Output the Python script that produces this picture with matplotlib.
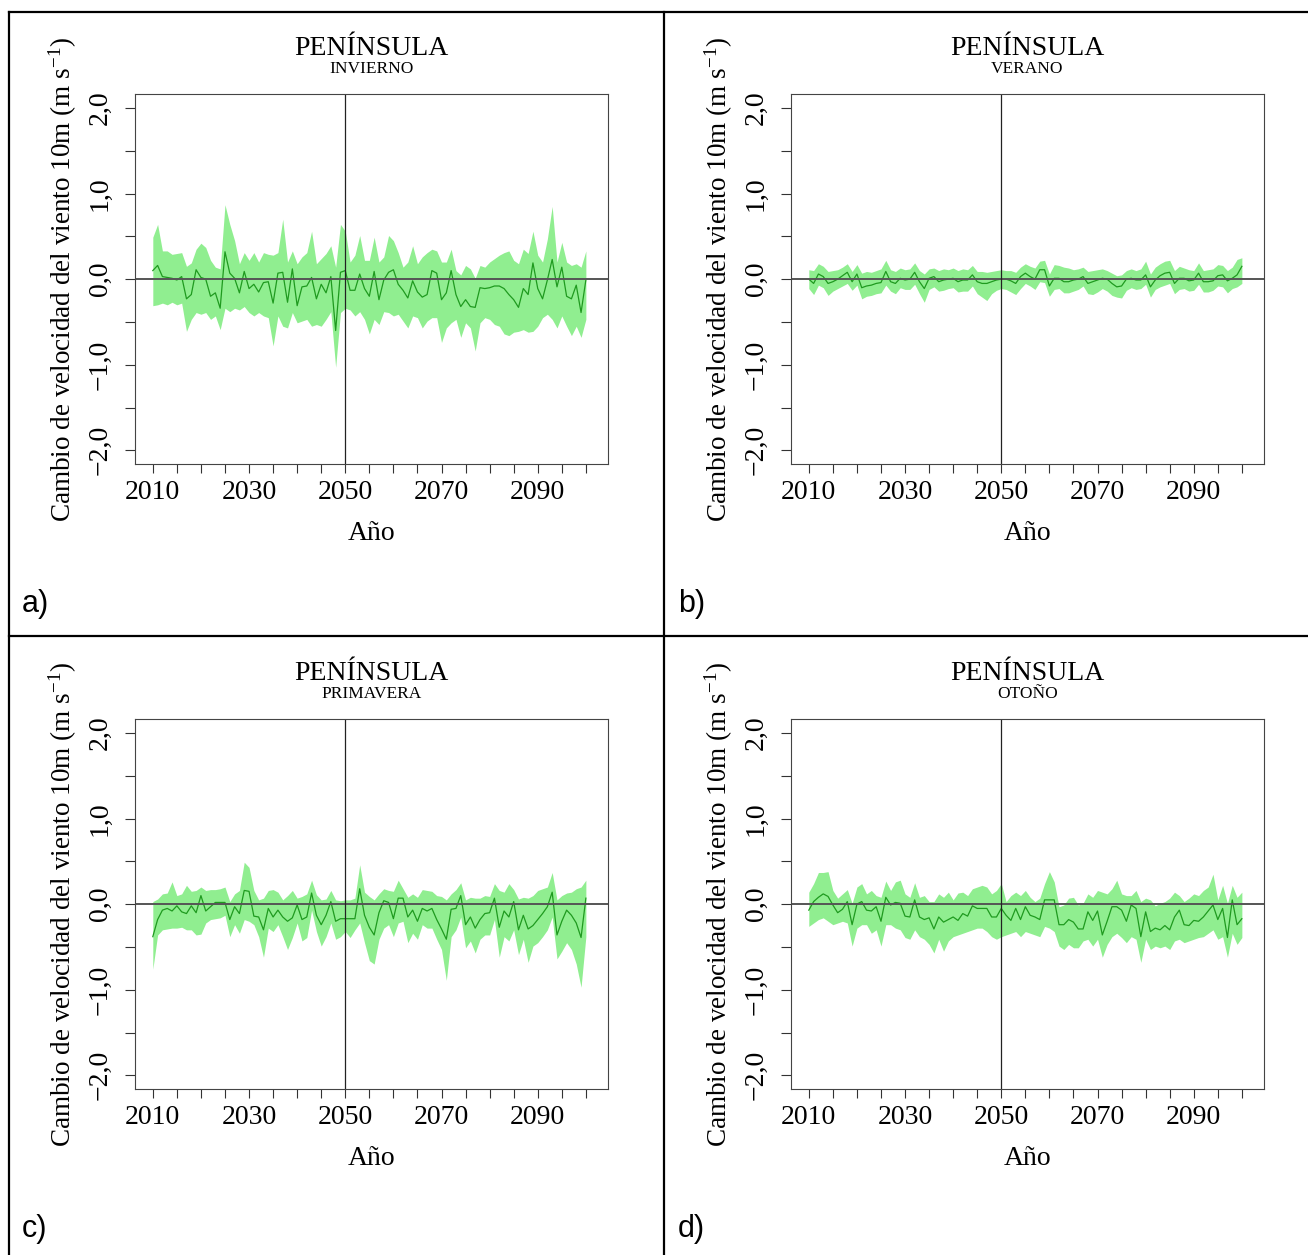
import numpy as np
import matplotlib
matplotlib.use('Agg')
import matplotlib.pyplot as plt
from matplotlib.lines import Line2D

plt.rcParams['font.family'] = ['Liberation Serif', 'DejaVu Serif']
plt.rcParams['mathtext.fontset'] = 'custom'
plt.rcParams['mathtext.rm'] = 'Liberation Serif'
plt.rcParams['mathtext.it'] = 'Liberation Serif:italic'

# years 2010..2100
years = np.arange(2010, 2101)

# a) invierno
inv_mean = [0.10, 0.16, 0.03, 0.02, 0.01, -0.01, 0.03, -0.23, -0.18, 0.11,
            0.02, 0.00, -0.20, -0.16, -0.34, 0.32, 0.07, 0.01, -0.16, 0.09,
            -0.11, -0.06, -0.15, -0.04, -0.03, -0.28, 0.07, 0.08, -0.27, 0.12,
            -0.31, -0.09, -0.08, 0.02, -0.23, -0.06, -0.16, 0.03, -0.60, 0.08,
            0.10, -0.13, -0.13, 0.06, -0.11, -0.20, 0.09, -0.24, -0.01, 0.08,
            0.11, -0.06, -0.13, -0.22, -0.02, -0.15, -0.21, -0.18, 0.10, 0.07,
            -0.24, -0.16, 0.10, -0.18, -0.32, -0.24, -0.32, -0.33, -0.10, -0.11,
            -0.10, -0.08, -0.08, -0.11, -0.18, -0.24, -0.33, -0.11, -0.18, 0.19,
            -0.11, -0.23, -0.01, 0.23, -0.09, 0.14, -0.20, -0.23, -0.07, -0.39,
            -0.01]
inv_upper = [0.49, 0.64, 0.33, 0.33, 0.29, 0.30, 0.31, 0.15, 0.19, 0.35,
             0.42, 0.37, 0.22, 0.14, 0.12, 0.87, 0.64, 0.45, 0.18, 0.31,
             0.22, 0.31, 0.20, 0.31, 0.29, 0.28, 0.31, 0.70, 0.20, 0.33,
             0.18, 0.26, 0.31, 0.56, 0.18, 0.24, 0.30, 0.39, 0.14, 0.64,
             0.56, 0.20, 0.28, 0.51, 0.22, 0.22, 0.49, 0.20, 0.26, 0.51,
             0.45, 0.31, 0.14, 0.20, 0.39, 0.18, 0.26, 0.31, 0.35, 0.33,
             0.20, 0.20, 0.35, 0.10, 0.05, 0.16, 0.12, 0.01, 0.16, 0.14,
             0.20, 0.24, 0.28, 0.31, 0.33, 0.22, 0.18, 0.35, 0.30, 0.56,
             0.28, 0.20, 0.47, 0.85, 0.20, 0.43, 0.20, 0.16, 0.18, 0.14,
             0.33]
inv_lower = [-0.31, -0.30, -0.28, -0.30, -0.27, -0.30, -0.28, -0.61, -0.47, -0.39,
             -0.41, -0.39, -0.47, -0.43, -0.59, -0.34, -0.38, -0.34, -0.36, -0.32,
             -0.39, -0.43, -0.39, -0.43, -0.45, -0.78, -0.43, -0.55, -0.57, -0.39,
             -0.51, -0.49, -0.47, -0.55, -0.53, -0.55, -0.47, -0.38, -1.03, -0.39,
             -0.34, -0.36, -0.43, -0.38, -0.47, -0.64, -0.47, -0.53, -0.38, -0.39,
             -0.43, -0.41, -0.49, -0.57, -0.43, -0.45, -0.57, -0.49, -0.45, -0.45,
             -0.74, -0.57, -0.51, -0.47, -0.68, -0.51, -0.57, -0.84, -0.51, -0.45,
             -0.47, -0.53, -0.55, -0.64, -0.66, -0.62, -0.61, -0.59, -0.62, -0.61,
             -0.55, -0.45, -0.41, -0.47, -0.57, -0.43, -0.55, -0.66, -0.55, -0.68,
             -0.47]

# b) verano
ver_mean = [0.00, -0.05, 0.06, 0.03, -0.05, -0.03, 0.00, 0.04, 0.08, -0.03,
            0.06, -0.10, -0.08, -0.07, -0.05, -0.04, 0.09, -0.03, -0.05, 0.01,
            -0.01, 0.00, 0.08, -0.03, -0.11, 0.01, 0.03, -0.03, -0.01, 0.00,
            0.01, -0.03, -0.01, -0.01, 0.05, -0.03, -0.05, -0.05, -0.03, -0.01,
            0.00, 0.00, -0.02, -0.05, 0.03, 0.07, 0.03, 0.00, 0.11, 0.11,
            -0.08, 0.01, 0.01, -0.03, -0.03, -0.01, 0.00, 0.03, -0.05, -0.03,
            -0.01, 0.01, 0.00, -0.05, -0.09, -0.08, 0.00, 0.01, -0.01, -0.01,
            0.05, -0.09, -0.01, 0.04, 0.07, 0.08, -0.05, 0.01, 0.01, -0.02,
            -0.01, 0.07, -0.03, -0.03, -0.02, 0.04, 0.05, -0.02, 0.01, 0.05,
            0.15]
ver_upper = [0.11, 0.10, 0.18, 0.15, 0.09, 0.10, 0.11, 0.14, 0.18, 0.09,
             0.17, 0.07, 0.09, 0.08, 0.10, 0.12, 0.22, 0.11, 0.09, 0.13,
             0.11, 0.12, 0.19, 0.10, 0.06, 0.12, 0.13, 0.10, 0.12, 0.11,
             0.13, 0.10, 0.12, 0.11, 0.16, 0.09, 0.09, 0.08, 0.09, 0.10,
             0.11, 0.10, 0.10, 0.08, 0.14, 0.18, 0.15, 0.13, 0.21, 0.22,
             0.06, 0.17, 0.16, 0.14, 0.13, 0.11, 0.12, 0.14, 0.09, 0.10,
             0.11, 0.12, 0.10, 0.07, 0.04, 0.05, 0.10, 0.12, 0.10, 0.12,
             0.21, 0.06, 0.14, 0.18, 0.21, 0.22, 0.10, 0.15, 0.13, 0.11,
             0.10, 0.19, 0.10, 0.11, 0.12, 0.17, 0.16, 0.10, 0.14, 0.23,
             0.25]
ver_lower = [-0.11, -0.18, -0.07, -0.10, -0.19, -0.14, -0.11, -0.08, -0.05, -0.13,
             -0.07, -0.23, -0.20, -0.19, -0.17, -0.16, -0.07, -0.14, -0.17, -0.10,
             -0.12, -0.12, -0.06, -0.17, -0.27, -0.12, -0.09, -0.14, -0.13, -0.11,
             -0.10, -0.15, -0.14, -0.14, -0.08, -0.17, -0.21, -0.25, -0.17, -0.13,
             -0.11, -0.12, -0.15, -0.18, -0.11, -0.05, -0.08, -0.12, -0.03, -0.04,
             -0.20, -0.12, -0.11, -0.16, -0.16, -0.14, -0.12, -0.08, -0.17, -0.18,
             -0.15, -0.11, -0.14, -0.19, -0.21, -0.22, -0.13, -0.10, -0.12, -0.11,
             -0.06, -0.21, -0.12, -0.09, -0.07, -0.05, -0.17, -0.12, -0.11, -0.14,
             -0.13, -0.06, -0.15, -0.15, -0.13, -0.08, -0.09, -0.16, -0.11, -0.09,
             -0.05]

# c) primavera
pri_mean = [-0.38, -0.18, -0.07, -0.05, -0.08, -0.02, -0.09, -0.11, -0.02, -0.10,
            0.10, -0.08, -0.03, 0.02, 0.02, 0.02, -0.18, -0.03, -0.11, 0.16,
            0.15, -0.14, -0.15, -0.30, -0.05, -0.15, -0.07, -0.15, -0.20, -0.16,
            -0.01, -0.18, -0.15, 0.13, -0.13, -0.24, -0.13, 0.03, -0.20, -0.17,
            -0.17, -0.17, -0.17, 0.18, -0.13, -0.27, -0.36, -0.10, 0.04, 0.02,
            -0.17, 0.07, 0.07, -0.15, -0.07, -0.20, -0.05, -0.08, -0.05, -0.18,
            -0.29, -0.41, -0.06, -0.05, 0.10, -0.24, -0.15, -0.28, -0.18, -0.11,
            -0.10, 0.07, -0.27, -0.08, -0.15, 0.03, -0.30, -0.13, -0.29, -0.25,
            -0.18, -0.11, -0.03, 0.14, -0.36, -0.20, -0.07, -0.13, -0.22, -0.39,
            0.07]
pri_upper = [0.03, 0.06, 0.12, 0.13, 0.26, 0.10, 0.12, 0.22, 0.15, 0.16,
             0.20, 0.16, 0.17, 0.17, 0.18, 0.20, 0.03, 0.12, 0.16, 0.49,
             0.43, 0.16, 0.05, 0.07, 0.16, 0.17, 0.14, 0.05, 0.10, 0.16,
             0.07, 0.09, 0.12, 0.28, 0.11, 0.05, 0.06, 0.16, 0.05, 0.04,
             0.05, 0.05, 0.07, 0.46, 0.14, 0.09, 0.05, 0.12, 0.18, 0.16,
             0.15, 0.28, 0.18, 0.08, 0.12, 0.08, 0.17, 0.16, 0.15, 0.10,
             0.09, 0.05, 0.12, 0.17, 0.25, 0.05, 0.08, 0.07, 0.07, 0.10,
             0.09, 0.24, 0.16, 0.14, 0.24, 0.17, 0.06, 0.08, 0.07, 0.10,
             0.16, 0.18, 0.20, 0.37, 0.05, 0.10, 0.13, 0.14, 0.18, 0.20,
             0.28]
pri_lower = [-0.76, -0.36, -0.30, -0.29, -0.28, -0.28, -0.27, -0.30, -0.30, -0.36,
             -0.35, -0.22, -0.18, -0.17, -0.16, -0.13, -0.38, -0.24, -0.34, -0.18,
             -0.20, -0.24, -0.38, -0.62, -0.28, -0.32, -0.24, -0.38, -0.53, -0.39,
             -0.22, -0.43, -0.39, -0.07, -0.32, -0.49, -0.38, -0.22, -0.41, -0.38,
             -0.32, -0.39, -0.30, -0.22, -0.45, -0.66, -0.70, -0.41, -0.28, -0.24,
             -0.38, -0.22, -0.20, -0.45, -0.34, -0.41, -0.24, -0.28, -0.28, -0.41,
             -0.53, -0.89, -0.38, -0.30, -0.15, -0.51, -0.43, -0.57, -0.41, -0.36,
             -0.36, -0.18, -0.62, -0.38, -0.43, -0.30, -0.59, -0.41, -0.68, -0.49,
             -0.45, -0.38, -0.30, -0.15, -0.64, -0.55, -0.45, -0.53, -0.70, -0.97,
             -0.38]

# d) otono
oto_mean = [-0.07, 0.03, 0.08, 0.12, 0.09, -0.01, -0.10, -0.06, 0.03, -0.24,
            0.00, 0.03, -0.07, -0.08, -0.03, -0.20, 0.08, -0.01, 0.02, 0.01,
            -0.14, -0.15, 0.05, -0.15, -0.18, -0.16, -0.29, -0.15, -0.21, -0.18,
            -0.15, -0.19, -0.11, -0.14, -0.02, -0.05, -0.05, -0.05, -0.15, -0.15,
            -0.05, -0.13, -0.19, -0.05, -0.18, -0.03, -0.13, -0.15, -0.18, 0.05,
            0.05, 0.05, -0.24, -0.24, -0.18, -0.21, -0.29, -0.29, -0.09, -0.19,
            -0.08, -0.36, -0.20, -0.03, -0.03, -0.07, -0.20, -0.01, -0.05, -0.38,
            -0.09, -0.32, -0.28, -0.30, -0.25, -0.30, -0.15, -0.07, -0.24, -0.25,
            -0.19, -0.20, -0.15, -0.08, -0.01, -0.18, -0.05, -0.39, 0.05, -0.24,
            -0.17]
oto_upper = [0.14, 0.24, 0.37, 0.37, 0.38, 0.16, 0.07, 0.12, 0.17, 0.01,
             0.20, 0.24, 0.12, 0.16, 0.10, 0.08, 0.27, 0.16, 0.26, 0.28,
             0.12, 0.08, 0.25, 0.08, 0.10, 0.03, 0.03, 0.12, 0.08, 0.14,
             0.05, 0.13, 0.14, 0.10, 0.18, 0.20, 0.22, 0.20, 0.12, 0.16,
             0.24, 0.03, 0.10, 0.14, 0.10, 0.16, 0.08, 0.03, 0.07, 0.24,
             0.38, 0.26, -0.03, -0.01, 0.07, 0.08, -0.01, 0.01, 0.12, 0.08,
             0.16, 0.14, 0.12, 0.18, 0.28, 0.12, 0.10, 0.10, 0.16, 0.03,
             0.07, 0.05, -0.02, 0.01, 0.03, 0.07, 0.14, 0.10, 0.03, 0.07,
             0.12, 0.10, 0.16, 0.20, 0.35, 0.05, 0.22, 0.01, 0.22, 0.08,
             0.14]
oto_lower = [-0.26, -0.22, -0.18, -0.16, -0.20, -0.24, -0.22, -0.20, -0.22, -0.49,
             -0.28, -0.24, -0.24, -0.34, -0.30, -0.49, -0.24, -0.24, -0.28, -0.30,
             -0.39, -0.41, -0.30, -0.38, -0.41, -0.47, -0.57, -0.41, -0.55, -0.43,
             -0.38, -0.36, -0.34, -0.32, -0.30, -0.28, -0.28, -0.32, -0.38, -0.41,
             -0.38, -0.36, -0.34, -0.32, -0.38, -0.32, -0.34, -0.36, -0.38, -0.26,
             -0.28, -0.32, -0.49, -0.53, -0.47, -0.51, -0.51, -0.43, -0.41, -0.49,
             -0.41, -0.62, -0.47, -0.38, -0.34, -0.39, -0.45, -0.38, -0.41, -0.68,
             -0.41, -0.53, -0.49, -0.51, -0.49, -0.53, -0.43, -0.41, -0.45, -0.43,
             -0.41, -0.39, -0.38, -0.34, -0.30, -0.41, -0.38, -0.62, -0.34, -0.47,
             -0.39]

panels = [
    ('INVIERNO', inv_mean, inv_lower, inv_upper, 'a)', 0, 0),
    ('VERANO', ver_mean, ver_lower, ver_upper, 'b)', 656, 0),
    ('PRIMAVERA', pri_mean, pri_lower, pri_upper, 'c)', 0, 625),
    ('OTOÑO', oto_mean, oto_lower, oto_upper, 'd)', 656, 625),
]

W, H = 1308, 1255
fig = plt.figure(figsize=(W / 100, H / 100), dpi=100)

xticks = np.arange(2010, 2101, 5)
xlabels = [str(t) if t in (2010, 2030, 2050, 2070, 2090) else '' for t in xticks]
yticks = np.arange(-2.0, 2.01, 0.5)
ylabels = []
for t in yticks:
    if t == int(t):
        s = '%.1f' % abs(t)
        s = s.replace('.', ',')
        ylabels.append(('\u2212' + s) if t < 0 else s)
    else:
        ylabels.append('')

for season, mean, low, up, tag, dx, dy in panels:
    left, top, right, bottom = 135 + dx, 94.3 + dy, 608 + dx, 464 + dy
    ax = fig.add_axes([left / W, 1 - bottom / H, (right - left) / W, (bottom - top) / H])
    ax.fill_between(years, low, up, color='#90ee90', lw=0)
    ax.plot(years, mean, color='#1f9a1f', lw=0.9)
    ax.axhline(0, color='#555555', lw=1.4)
    ax.axvline(2050, color='#222222', lw=0.9)
    ax.set_xlim(2006.3, 2104.6)
    ax.set_ylim(-2.16, 2.16)
    ax.set_xticks(xticks)
    ax.set_xticklabels(xlabels, fontsize=20)
    ax.set_yticks(yticks)
    ax.set_yticklabels(ylabels, fontsize=20, rotation=90, va='center')
    ax.tick_params(axis='x', length=6.5, width=0.8, color='#333333', pad=5)
    ax.tick_params(axis='y', length=7, width=0.8, color='#333333', pad=9)
    for sp in ax.spines.values():
        sp.set_color('#444444')
        sp.set_linewidth(0.8)

    cx = (left + right) / 2
    fig.text(cx / W, 1 - (55 + dy) / H, 'PENÍNSULA', fontsize=20, ha='center', va='baseline')
    fig.text(cx / W, 1 - (73 + dy) / H, season, fontsize=12.5, ha='center', va='baseline')
    fig.text(cx / W, 1 - (540 + dy) / H, 'Año', fontsize=20, ha='center', va='baseline')
    fig.text((63 + dx) / W, 1 - (279 + dy) / H,
             'Cambio de velocidad del viento 10m (m s$^{\u22121}$)',
             fontsize=19.5, rotation=90, ha='center', va='center')
    fig.text((22 + dx) / W, 1 - (612 + dy) / H, tag, fontsize=22,
             family=['Liberation Sans', 'DejaVu Sans'], va='baseline')

# table grid lines
tl = dict(color='black', lw=1.6, transform=fig.transFigure)
fig.lines.append(Line2D([9 / W, 9 / W], [0, 1 - 12 / H], **tl))
fig.lines.append(Line2D([9 / W, 1], [1 - 12 / H, 1 - 12 / H], **tl))
fig.lines.append(Line2D([663.5 / W, 663.5 / W], [0, 1 - 12 / H], **tl))
fig.lines.append(Line2D([9 / W, 1], [1 - 636 / H, 1 - 636 / H], **tl))

fig.savefig('out.png', dpi=100)
